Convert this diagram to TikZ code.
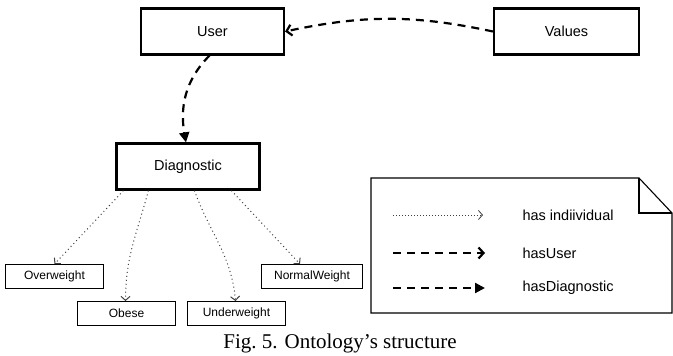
\documentclass[tikz,border=0pt]{standalone}
\usepackage{fontspec}
\setmainfont{Liberation Serif}
\setsansfont{Liberation Sans}
\usetikzlibrary{arrows.meta}

\begin{document}
\begin{tikzpicture}[x=1pt,y=1pt,
    mainbox/.style={draw,line width=2.2pt,minimum width=143pt,minimum height=46pt,font=\sffamily\fontsize{14.5}{17}\selectfont},
    leafbox/.style={draw,line width=0.9pt,minimum width=98pt,minimum height=24pt,font=\sffamily\fontsize{12}{14}\selectfont},
    indiv/.style={line width=1pt,dash pattern=on 1pt off 3pt,black!75,-{Straight Barb[length=4pt,width=9pt]}},
    usr/.style={line width=2.2pt,dash pattern=on 8pt off 6pt,-{Straight Barb[length=5pt,width=11pt]}},
    diagn/.style={line width=2.2pt,dash pattern=on 8pt off 6pt,-{Triangle[length=10pt,width=10pt]}},
    legtext/.style={anchor=west,font=\sffamily\fontsize{14.5}{17}\selectfont}]
                \useasboundingbox (0,0) rectangle (673,356);

                \node[mainbox] (user) at (212.5,324.5) {User};
                \node[mainbox,minimum width=145pt] (values) at (566.5,324.5) {Values};
                \node[mainbox] (diag) at (188,189.5) {Diagnostic};
                \node[leafbox] (over) at (54.5,79.5) {Overweight};
                \node[leafbox,minimum width=101pt] (normal) at (312,79.5) {NormalWeight};
                \node[leafbox] (obese) at (126.5,42.5) {Obese};
                \node[leafbox] (under) at (236.5,42.5) {Underweight};

                \draw[usr] (values.west) to[bend right=12] (user.east);
                \draw[diagn] ([xshift=-3pt]user.south) to[out=225,in=100] ([xshift=-2pt]diag.north);

                \draw[indiv] ([xshift=8pt]diag.south west) -- (over.north);
                \draw[indiv] ([xshift=33pt]diag.south west) to[out=255,in=90] ([xshift=-1pt]obese.north);
                \draw[indiv] ([xshift=79pt]diag.south west) to[out=290,in=95] ([xshift=-1pt]under.north);
                \draw[indiv] ([xshift=116pt]diag.south west) -- ([xshift=-12pt]normal.north);

                \draw[line width=1.1pt] (371,178) -- (639,178) -- (672,143) -- (672,43) -- (371,43) -- cycle;
                \draw[line width=1.1pt] (639,178) -- (639,143) -- (672,143);

                \node[legtext] (kindiv) at (519,141) {has indiividual};
                \node[legtext] (kuser) at (519,103) {hasUser};
                \node[legtext] (kdiag) at (519,68) {hasDiagnostic};
                \coordinate (sindiv) at (393,141);
                \coordinate (suser) at (393,103);
                \coordinate (sdiag) at (393,68);
                \draw[indiv,line width=0.8pt,dash pattern=on 0.8pt off 2.2pt] (sindiv) -- ([xshift=-36pt]kindiv.west);
                \draw[usr] (suser) -- ([xshift=-34pt]kuser.west);
                \draw[diagn] (sdiag) -- ([xshift=-34pt]kdiag.west);

                \node[font=\fontsize{21}{24}\selectfont] (caption) at (340,13) {Fig.~5. Ontology's structure};
\end{tikzpicture}
\end{document}
